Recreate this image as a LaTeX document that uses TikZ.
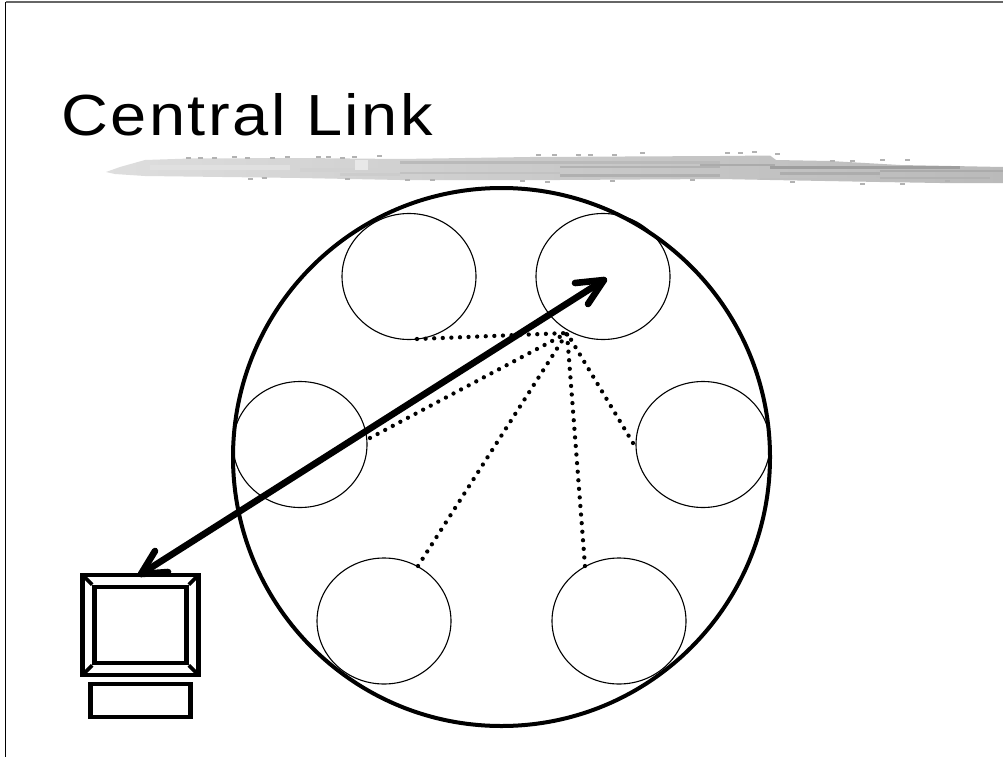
\documentclass[tikz,border=0pt]{standalone}
\usepackage{fontspec}
\setmainfont{Liberation Sans}
\newfontfamily\titlefont[FakeStretch=1.12,LetterSpace=4.3]{Liberation Sans}
\usetikzlibrary{shapes.geometric}
\tikzset{
  bigcircle/.style={draw=black,line width=4pt},
  smallcircle/.style={draw=black,line width=1.1pt},
  dotline/.style={line width=4.3pt,line cap=round,dash pattern=on 0pt off 8.6pt},
  bigarrow/.style={line width=6.6pt,line cap=round,line join=round},
  monitorline/.style={draw=black,line width=4.6pt},
  bevel/.style={line width=3.6pt,shorten <=2.5pt},
  frameline/.style={draw=#1,line width=1.2pt},
  streak/.style={fill=#1},
  speck/.style={fill=#1}
}
\begin{document}
\begin{tikzpicture}[x=1pt,y=-1pt]
\useasboundingbox (0,0) rectangle (1003,757);
\fill[white] (0,0) rectangle (1003,757);
% slide frame
\coordinate (ftl) at (5.5,2);
\coordinate (ftr) at (1003,2);
\coordinate (fbl) at (5.5,757);
\draw[frameline=gray!80!black] (ftl) -- (ftr);
\draw[frameline=black] (ftl) -- (fbl);
% title
\node[anchor=base west,inner sep=0pt,font=\titlefont\fontsize{58}{60}\selectfont] (title) at (61,135.5) {Central Link};
% brush stroke
\path[left color=black!13,right color=black!27,middle color=black!21,shading angle=90]
  (106,172) -- (120,167) -- (145,160) -- (190,158.5) -- (300,158) -- (400,159) -- (530,157) -- (720,156) -- (770,155.5)
  -- (776,160) -- (830,161) -- (900,165) -- (1003,167) -- (1003,183) -- (940,183) -- (880,182) -- (770,180)
  -- (720,179) -- (560,180) -- (400,180) -- (300,178) -- (145,176) -- (115,174) -- cycle;
\foreach \xa/\ya/\xb/\yb/\c in {
  400/161/720/163.5/black!27, 300/168/395/172/black!18, 400/172/560/174/black!24, 560/166/720/168/black!30,
  560/174/720/177/black!31, 700/164/775/166/black!33, 770/166/960/168.5/black!38, 780/172/880/175/black!32,
  880/170/1003/172/black!33, 760/178/880/180/black!25, 880/177/990/179/black!30, 150/165/290/170/black!12,
  340/173/400/176/black!20, 355/160/368/170/black!9}
  {\fill[streak=\c] (\xa,\ya) rectangle (\xb,\yb);}
\foreach \xs/\ys in {186/157,198/157,212/157,232/156,245/157,270/157,285/156,316/156,326/156,340/157,352/156,377/155,
  536/154,552/154,576/154,588/154,612/154,640/152,725/152,738/152,752/151,775/153,830/160,850/160,880/159,905/159,
  248/178,262/177,345/178,405/179,430/179,520/180,545/181,610/180,690/179,790/181,860/183,900/183,945/180}
  {\fill[speck=black!30] (\xs,\ys) rectangle ++(5,2);}
% circles
\node[ellipse,bigcircle,minimum width=537pt,minimum height=538pt,inner sep=0pt] (ring) at (501.5,457) {};
\node[ellipse,smallcircle,minimum width=134pt,minimum height=126pt,inner sep=0pt] (c1) at (409,276.5) {};
\node[ellipse,smallcircle,minimum width=134pt,minimum height=126pt,inner sep=0pt] (c2) at (603,276.5) {};
\node[ellipse,smallcircle,minimum width=134pt,minimum height=126pt,inner sep=0pt] (c3) at (300,444.5) {};
\node[ellipse,smallcircle,minimum width=134pt,minimum height=126pt,inner sep=0pt] (c4) at (703,444.5) {};
\node[ellipse,smallcircle,minimum width=134pt,minimum height=126pt,inner sep=0pt] (c5) at (384,621) {};
\node[ellipse,smallcircle,minimum width=134pt,minimum height=126pt,inner sep=0pt] (c6) at (619,621) {};
% dotted links
\coordinate (hub) at (567,333);
\coordinate (d1) at (417,339);
\coordinate (d3) at (370,438);
\coordinate (d4) at (633,443);
\coordinate (d5) at (418,566);
\coordinate (d6) at (585,566);
\foreach \t in {d1,d3,d4,d5,d6}
  \draw[dotline] (\t) -- (hub);
% monitor
\node[rectangle,monitorline,minimum width=116pt,minimum height=100pt,inner sep=0pt] (screenouter) at (140.5,625) {};
\node[rectangle,monitorline,minimum width=92pt,minimum height=76pt,inner sep=0pt] (screeninner) at (140.5,625) {};
\node[rectangle,monitorline,minimum width=100.5pt,minimum height=33pt,inner sep=0pt] (base) at (140.5,700.5) {};
\draw[bevel] (screenouter.north west) -- (screeninner.north west);
\draw[bevel] (screenouter.north east) -- (screeninner.north east);
\draw[bevel] (screenouter.south west) -- (screeninner.south west);
\draw[bevel] (screenouter.south east) -- (screeninner.south east);
% double arrow
\coordinate (tipa) at (604,280);
\coordinate (tipb) at (141,574);
\draw[bigarrow] (tipb) -- (tipa);
\draw[bigarrow] (575,283) -- (tipa) -- (588,304);
\draw[bigarrow] (155,551) -- (tipb) -- (168,572);
\end{tikzpicture}
\end{document}
